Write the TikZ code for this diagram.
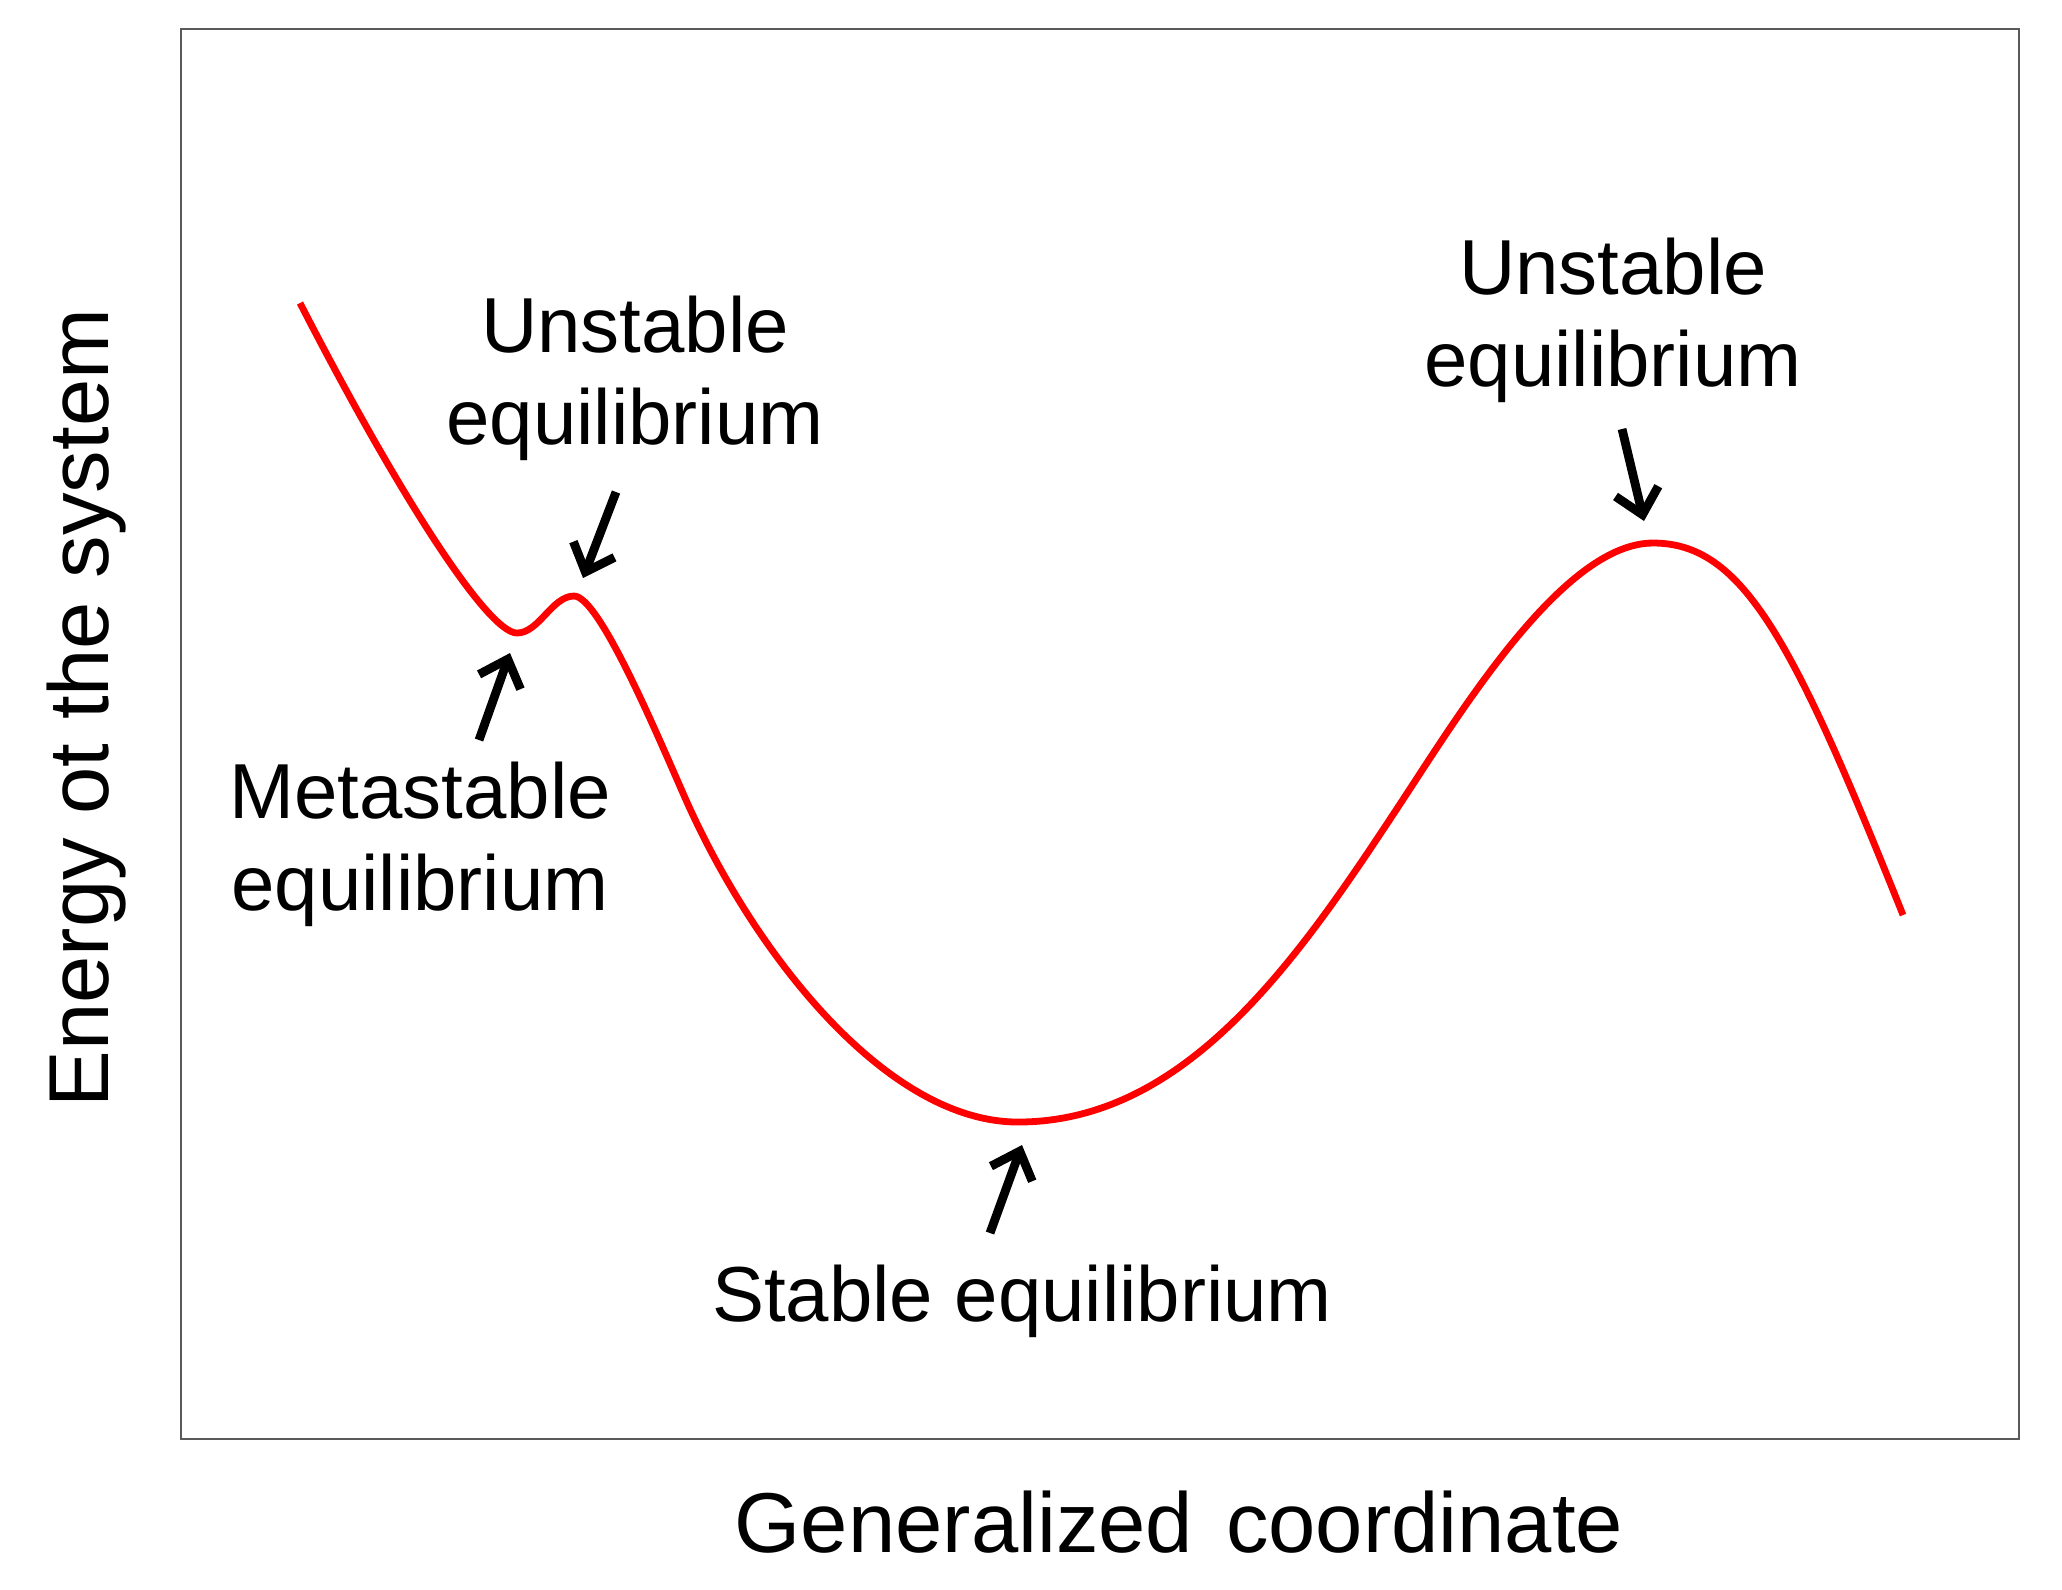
\documentclass[tikz,border=0pt]{standalone}
\usepackage{fontspec}
\setmainfont{Liberation Sans}
\usetikzlibrary{arrows.meta}
\definecolor{framegray}{RGB}{90,90,90}
\definecolor{curvered}{RGB}{255,0,0}
\tikzset{
  lbl/.style={font=\fontsize{19.5pt}{23pt}\selectfont, align=center, inner sep=0pt, anchor=base},
  axislbl/.style={font=\fontsize{21.25pt}{25pt}\selectfont, inner sep=0pt, anchor=base},
  pointer/.style={line width=2.2pt, -{Straight Barb[length=6pt,width=11pt,line width=2.2pt]}},
  curve/.style={curvered, line width=1.7pt, line cap=butt, line join=round},
  framebox/.style={framegray, line width=0.6pt}
}
\begin{document}
\begin{tikzpicture}[x=0.25pt,y=-0.25pt]
\useasboundingbox (0,0) rectangle (2062,1589);
\fill[white] (0,0) rectangle (2062,1589);
\draw[framebox] (181,29) rectangle (2019,1439);
% energy curve: start, metastable minimum, small barrier, stable minimum, large barrier, end
\coordinate (cS) at (300,303);
\coordinate (cA) at (517,633);
\coordinate (cB) at (574,596);
\coordinate (cI1) at (686,800);
\coordinate (cC) at (1018,1122);
\coordinate (cI2) at (1400,804);
\coordinate (cD) at (1653,543);
\coordinate (cE) at (1903,915);
\draw[curve] (cS)
  .. controls (395,488) and (487,633) .. (cA)
  .. controls (539,633) and (552,596) .. (cB)
  .. controls (599,596) and (656,732) .. (cI1)
  .. controls (756,957) and (888,1122) .. (cC)
  .. controls (1188,1122) and (1300,956) .. (cI2)
  .. controls (1460,713) and (1563,543) .. (cD)
  .. controls (1743,543) and (1793,640) .. (cE);
% labels
\node[lbl] (u1) at (635,444) {Unstable\\equilibrium};
\node[lbl] (u2) at (1613,386) {Unstable\\equilibrium};
\node[lbl] (ms) at (420,910) {Metastable\\equilibrium};
\node[lbl] (st) at (1022,1321) {Stable equilibrium};
\node[axislbl] (xl) at (1179,1552) {Generalized\hspace{0.39em}coordinate};
\node[axislbl, rotate=90] (yl) at (108,708) {Energy ot the system};
% arrow ends
\coordinate (u1tail) at (616,492);
\coordinate (u1tip) at (583,578);
\coordinate (mstail) at (479,740);
\coordinate (mstip) at (510,653);
\coordinate (u2tail) at (1622,429);
\coordinate (u2tip) at (1644,521);
\coordinate (sttail) at (990,1233);
\coordinate (sttip) at (1022,1145);
\draw[pointer] (u1tail) -- (u1tip);
\draw[pointer] (mstail) -- (mstip);
\draw[pointer] (u2tail) -- (u2tip);
\draw[pointer] (sttail) -- (sttip);
\end{tikzpicture}
\end{document}
